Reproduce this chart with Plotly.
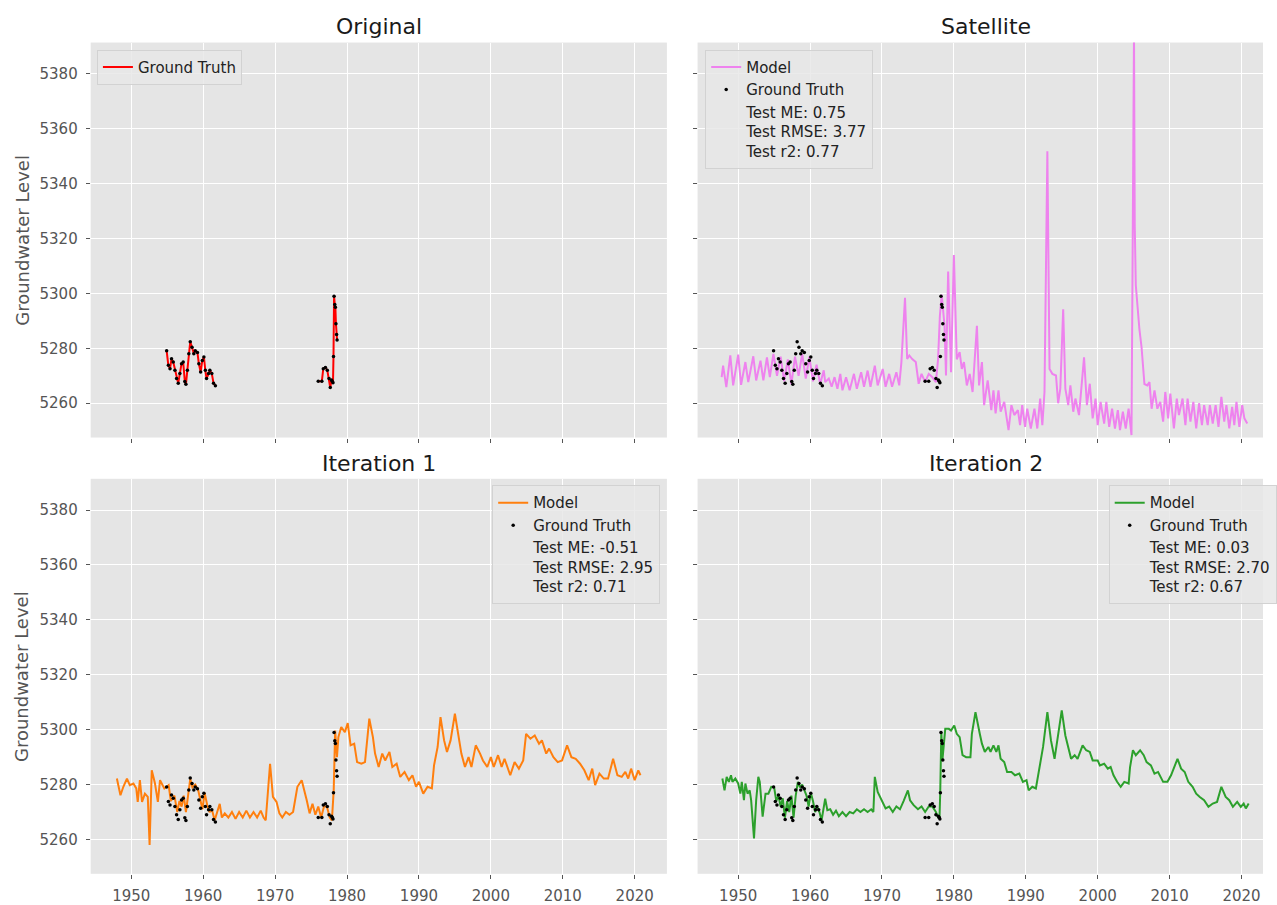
import plotly.graph_objects as go

# ---------------- data ----------------
year_ticks = [1950, 1960, 1970, 1980, 1990, 2000, 2010, 2020]
level_ticks = [5260, 5280, 5300, 5320, 5340, 5360, 5380]

# Ground-truth observations (gap between the two observation campaigns)
gt_years = [1954.92, 1955.16, 1955.39, 1955.6, 1955.84, 1956.07, 1956.3, 1956.53, 1956.76, 1956.99,
            1957.22, 1957.45, 1957.6, 1957.8, 1958.0, 1958.2, 1958.45, 1958.7, 1958.9, 1959.2,
            1959.4, 1959.65, 1959.88, 1960.1, 1960.3, 1960.47, 1960.75, 1960.93, 1961.2, 1961.44,
            1961.7, None,
            1976.0, 1976.5, 1976.7, 1977.0, 1977.26, 1977.5, 1977.67, 1977.85, 1977.95, 1978.05,
            1978.12, 1978.2, 1978.3, 1978.38, 1978.46, 1978.55, 1978.62]
gt_values = [5279.1, 5273.8, 5272.6, 5276.2, 5275.0, 5272.0, 5269.0, 5267.3, 5270.8, 5274.4,
             5275.0, 5267.9, 5266.9, 5272.0, 5278.0, 5282.4, 5280.4, 5278.0, 5279.1, 5278.5,
             5274.4, 5271.4, 5275.6, 5276.8, 5272.0, 5269.0, 5270.8, 5272.0, 5270.8, 5267.3,
             5266.4, None,
             5268.0, 5268.0, 5272.6, 5273.0, 5272.0, 5269.0, 5265.7, 5268.5, 5268.0, 5267.5,
             5277.0, 5299.0, 5296.0, 5295.0, 5289.0, 5285.0, 5283.0]

sat_years = [1947.7, 1947.9, 1948.35, 1948.9, 1949.3, 1950.0, 1950.4, 1951.0, 1951.4, 1952.1,
             1952.5, 1953.1, 1953.5, 1954.0, 1954.4, 1954.9, 1955.4, 1955.9, 1956.4, 1956.9,
             1957.4, 1957.9, 1958.4, 1958.9, 1959.4, 1959.9, 1960.4, 1960.9, 1961.4, 1961.9,
             1962.1, 1962.6, 1963.0, 1963.4, 1963.8, 1964.2, 1964.5, 1965.0, 1965.5, 1966.1,
             1966.5, 1967.1, 1967.5, 1968.0, 1968.4, 1969.0, 1969.4, 1970.1, 1970.5, 1971.0,
             1971.4, 1972.0, 1972.4, 1972.7, 1973.2, 1973.5, 1973.8, 1974.2, 1974.7, 1975.1,
             1975.5, 1976.0, 1976.5, 1977.0, 1977.5, 1977.8, 1978.05, 1978.3, 1978.7, 1978.9,
             1979.2, 1979.6, 1980.0, 1980.4, 1980.8, 1981.1, 1981.4, 1981.8, 1982.2, 1982.6,
             1983.2, 1983.5, 1983.9, 1984.2, 1984.7, 1985.2, 1985.5, 1985.8, 1986.2, 1986.5,
             1987.0, 1987.6, 1988.0, 1988.4, 1988.9, 1989.2, 1989.5, 1989.9, 1990.2, 1990.7,
             1991.2, 1991.6, 1992.0, 1992.3, 1992.6, 1993.0, 1993.3, 1993.7, 1994.2, 1994.5,
             1994.8, 1995.2, 1995.5, 1995.9, 1996.2, 1996.6, 1996.9, 1997.4, 1998.1, 1998.5,
             1998.9, 1999.3, 1999.7, 2000.0, 2000.4, 2000.9, 2001.2, 2001.6, 2002.0, 2002.4,
             2002.8, 2003.1, 2003.5, 2003.9, 2004.3, 2004.7, 2005.05, 2005.15, 2005.3, 2005.5,
             2005.8, 2006.1, 2006.5, 2006.9, 2007.2, 2007.5, 2007.9, 2008.3, 2008.7, 2009.1, 2009.4,
             2009.8, 2010.1, 2010.6, 2011.0, 2011.3, 2011.8, 2012.2, 2012.5, 2012.9, 2013.3,
             2013.7, 2014.1, 2014.5, 2014.8, 2015.3, 2015.6, 2016.0, 2016.4, 2016.8, 2017.2,
             2017.6, 2017.9, 2018.3, 2018.7, 2019.0, 2019.3, 2019.7, 2020.1, 2020.4, 2020.8]
sat_values = [5269.5, 5273.7, 5265.9, 5277.4, 5266.5, 5277.7, 5266.7, 5275.0, 5267.7, 5277.1,
              5268.3, 5275.5, 5268.3, 5276.7, 5269.5, 5278.0, 5270.0, 5277.0, 5268.0, 5276.0,
              5267.0, 5277.0, 5270.0, 5278.0, 5269.0, 5277.0, 5268.0, 5274.0, 5267.0, 5272.0,
              5267.7, 5269.0, 5266.0, 5269.5, 5265.3, 5270.7, 5264.7, 5269.5, 5264.7, 5270.7,
              5265.3, 5271.3, 5266.0, 5271.9, 5266.0, 5273.7, 5266.5, 5272.5, 5266.0, 5270.7,
              5266.0, 5271.3, 5266.5, 5275.0, 5298.4, 5276.1, 5277.4, 5276.1, 5275.0, 5267.1,
              5270.7, 5267.7, 5270.7, 5269.5, 5267.7, 5276.1, 5291.8, 5299.6, 5288.2, 5270.1,
              5308.0, 5271.3, 5314.0, 5276.0, 5278.6, 5272.5, 5275.0, 5266.5, 5270.7, 5264.1,
              5288.2, 5266.5, 5275.0, 5259.3, 5268.3, 5257.5, 5264.7, 5256.3, 5264.7, 5256.9,
              5260.5, 5250.2, 5259.3, 5255.7, 5257.5, 5252.0, 5259.3, 5251.4, 5258.0, 5250.8,
              5258.0, 5250.8, 5261.7, 5252.0, 5264.1, 5351.8, 5272.5, 5270.7, 5270.1, 5260.0,
              5265.3, 5294.2, 5265.3, 5259.3, 5266.5, 5256.9, 5261.7, 5255.7, 5276.7, 5259.3,
              5267.1, 5254.5, 5261.7, 5252.0, 5260.5, 5252.6, 5260.5, 5251.4, 5258.0, 5250.8,
              5257.5, 5250.2, 5256.9, 5250.8, 5258.0, 5248.4, 5395.0, 5325.0, 5303.0, 5296.0,
              5287.0, 5280.4, 5267.0, 5266.5, 5267.7, 5258.0, 5264.7, 5258.0, 5260.5, 5253.3, 5264.1,
              5254.5, 5263.5, 5250.8, 5261.7, 5255.7, 5261.7, 5252.0, 5261.7, 5253.3, 5260.5,
              5250.8, 5260.0, 5252.0, 5259.3, 5252.0, 5259.3, 5252.6, 5259.3, 5251.4, 5262.3,
              5253.3, 5259.3, 5250.8, 5258.7, 5252.0, 5260.5, 5251.4, 5259.3, 5254.5, 5252.6]

it1_years = [1948.0, 1948.5, 1948.9, 1949.4, 1949.8, 1950.3, 1950.7, 1950.9, 1951.2, 1951.5,
             1951.9, 1952.3, 1952.55, 1952.85, 1953.3, 1953.7, 1954.0, 1954.6, 1955.2, 1955.5,
             1956.0, 1956.4, 1956.7, 1957.0, 1957.3, 1957.6, 1957.9, 1958.2, 1958.5, 1958.9,
             1959.3, 1959.6, 1959.9, 1960.2, 1960.6, 1960.9, 1961.2, 1961.6, 1962.0, 1962.3,
             1962.6, 1963.0, 1963.5, 1964.0, 1964.5, 1965.0, 1965.5, 1966.0, 1966.5, 1967.0,
             1967.5, 1968.0, 1968.4, 1968.7, 1969.3, 1969.7, 1970.2, 1970.6, 1971.0, 1971.5,
             1972.0, 1972.5, 1973.1, 1973.7, 1974.4, 1974.8, 1975.2, 1975.6, 1976.0, 1976.4,
             1976.8, 1977.2, 1977.6, 1977.9, 1978.15, 1978.35, 1978.6, 1978.8, 1979.2, 1979.7,
             1980.1, 1980.5, 1981.0, 1981.4, 1982.0, 1982.5, 1983.1, 1983.6, 1983.9, 1984.4,
             1984.9, 1985.3, 1985.9, 1986.3, 1986.9, 1987.4, 1988.0, 1988.6, 1989.1, 1989.6,
             1990.0, 1990.6, 1991.2, 1991.8, 1992.1, 1992.6, 1993.0, 1993.5, 1993.9, 1994.4,
             1995.0, 1995.4, 1995.9, 1996.4, 1996.9, 1997.3, 1997.9, 1998.5, 1998.9, 1999.5,
             2000.0, 2000.4, 2001.0, 2001.5, 2001.9, 2002.7, 2003.3, 2003.9, 2004.5, 2004.9,
             2005.5, 2006.1, 2006.7, 2007.1, 2007.7, 2008.1, 2008.7, 2009.3, 2009.9, 2010.6,
             2011.2, 2011.8, 2012.4, 2013.0, 2013.6, 2014.1, 2014.5, 2015.1, 2015.7, 2016.3,
             2017.0, 2017.6, 2018.2, 2018.7, 2019.1, 2019.5, 2020.0, 2020.5, 2020.8]
it1_values = [5282.2, 5276.1, 5279.2, 5282.2, 5279.8, 5280.4, 5278.6, 5273.7, 5281.6, 5273.7,
              5276.7, 5275.5, 5258.0, 5285.2, 5280.4, 5273.7, 5281.6, 5278.6, 5279.8, 5274.0,
              5276.0, 5270.0, 5274.0, 5272.0, 5276.0, 5270.0, 5276.0, 5282.0, 5279.0, 5280.0,
              5278.0, 5274.0, 5271.0, 5277.0, 5272.0, 5270.0, 5271.0, 5267.0, 5270.0, 5273.0,
              5268.0, 5269.5, 5268.0, 5270.0, 5267.5, 5270.0, 5268.0, 5270.5, 5268.0, 5270.0,
              5268.0, 5270.5, 5268.0, 5267.0, 5287.6, 5275.5, 5273.7, 5269.5, 5268.0, 5270.0,
              5269.0, 5270.0, 5279.2, 5281.6, 5274.3, 5269.5, 5273.0, 5269.0, 5272.0, 5268.0,
              5272.0, 5272.0, 5268.0, 5267.0, 5277.9, 5299.7, 5290.0, 5297.3, 5301.0, 5299.1,
              5302.4, 5294.3, 5294.9, 5288.2, 5287.6, 5288.2, 5304.0, 5297.3, 5291.3, 5286.4,
              5291.3, 5288.8, 5291.9, 5286.4, 5287.6, 5282.8, 5284.6, 5281.6, 5283.4, 5279.2,
              5281.0, 5276.7, 5279.2, 5278.6, 5287.0, 5293.7, 5304.6, 5296.1, 5291.9, 5296.1,
              5305.8, 5299.7, 5291.3, 5286.4, 5290.0, 5286.4, 5294.3, 5291.3, 5288.8, 5286.4,
              5290.0, 5286.4, 5290.7, 5286.4, 5289.4, 5283.4, 5288.2, 5285.8, 5288.8, 5298.5,
              5296.7, 5297.9, 5294.9, 5296.1, 5291.3, 5293.1, 5290.0, 5288.2, 5288.8, 5294.3,
              5290.0, 5289.4, 5287.6, 5285.2, 5281.6, 5285.8, 5279.8, 5284.0, 5282.2, 5282.2,
              5289.4, 5283.4, 5282.8, 5284.6, 5282.2, 5285.8, 5281.6, 5285.2, 5283.4]

it2_years = [1947.8, 1948.1, 1948.4, 1948.7, 1949.0, 1949.2, 1949.6, 1950.0, 1950.3, 1950.5,
             1950.8, 1951.0, 1951.3, 1951.6, 1951.8, 1952.2, 1952.5, 1952.8, 1953.0, 1953.4,
             1953.8, 1954.2, 1954.6, 1955.0, 1955.3, 1955.6, 1955.9, 1956.2, 1956.5, 1956.8,
             1957.1, 1957.4, 1957.7, 1958.0, 1958.3, 1958.6, 1958.9, 1959.2, 1959.5, 1959.8,
             1960.1, 1960.4, 1960.7, 1961.0, 1961.3, 1961.6, 1962.1, 1962.4, 1962.8, 1963.2,
             1963.6, 1964.0, 1964.5, 1965.0, 1965.5, 1966.0, 1966.5, 1967.0, 1967.5, 1968.0,
             1968.5, 1968.8, 1969.0, 1969.4, 1969.9, 1970.5, 1971.0, 1971.5, 1972.0, 1972.5,
             1973.0, 1973.6, 1973.9, 1974.4, 1975.0, 1975.5, 1976.0, 1976.5, 1977.0, 1977.5,
             1977.8, 1978.0, 1978.1, 1978.25, 1978.4, 1978.6, 1978.8, 1979.3, 1979.6, 1980.05,
             1980.4, 1980.8, 1981.2, 1981.7, 1982.3, 1982.5, 1983.0, 1983.6, 1983.9, 1984.3,
             1984.8, 1985.1, 1985.5, 1985.9, 1986.2, 1986.5, 1987.0, 1987.4, 1988.0, 1988.5,
             1989.1, 1989.6, 1990.1, 1990.4, 1990.9, 1991.4, 1992.0, 1992.4, 1993.0, 1993.5,
             1994.0, 1994.6, 1995.0, 1995.5, 1995.9, 1996.3, 1996.8, 1997.2, 1997.9, 1998.4,
             1998.9, 1999.3, 2000.0, 2000.3, 2000.9, 2001.4, 2001.8, 2002.2, 2002.7, 2003.2,
             2003.7, 2004.3, 2004.5, 2004.9, 2005.3, 2005.9, 2006.4, 2006.8, 2007.4, 2007.9,
             2008.4, 2009.1, 2009.7, 2010.2, 2011.1, 2011.6, 2012.1, 2012.6, 2013.2, 2013.7,
             2014.2, 2014.8, 2015.4, 2016.0, 2016.6, 2017.2, 2017.8, 2018.3, 2018.8, 2019.4,
             2019.9, 2020.3, 2020.6, 2021.0]
it2_values = [5282.2, 5277.9, 5282.8, 5281.0, 5283.4, 5281.0, 5282.2, 5280.4, 5276.7, 5281.0,
              5274.3, 5280.4, 5276.7, 5277.9, 5274.3, 5260.4, 5274.3, 5282.8, 5281.0, 5268.3,
              5276.7, 5276.7, 5279.2, 5279.0, 5274.0, 5276.0, 5272.0, 5275.0, 5268.0, 5274.0,
              5270.0, 5276.0, 5268.0, 5276.0, 5281.0, 5279.0, 5280.0, 5278.0, 5276.0, 5272.0,
              5277.0, 5274.0, 5270.0, 5272.0, 5270.0, 5267.0, 5274.9, 5270.7, 5271.0, 5269.0,
              5270.5, 5268.5, 5270.0, 5268.5, 5270.0, 5269.5, 5271.0, 5270.0, 5271.0, 5270.0,
              5271.0, 5270.0, 5282.8, 5277.3, 5274.3, 5271.3, 5272.0, 5270.0, 5272.0, 5271.0,
              5274.0, 5277.9, 5274.3, 5272.5, 5271.0, 5272.0, 5270.0, 5272.0, 5272.0, 5270.0,
              5268.0, 5268.0, 5277.3, 5299.1, 5288.8, 5296.1, 5300.3, 5300.3, 5299.7, 5301.5,
              5298.5, 5297.3, 5290.7, 5290.0, 5290.0, 5298.5, 5306.4, 5298.5, 5294.9, 5291.9,
              5293.7, 5291.9, 5294.3, 5291.9, 5294.3, 5289.4, 5288.2, 5284.6, 5284.6, 5283.4,
              5284.0, 5281.0, 5281.6, 5277.9, 5279.2, 5278.6, 5288.2, 5293.7, 5306.4, 5296.1,
              5289.4, 5299.1, 5307.0, 5297.9, 5293.7, 5289.4, 5290.7, 5289.4, 5294.3, 5292.5,
              5291.9, 5288.8, 5288.8, 5287.0, 5287.6, 5285.8, 5286.4, 5283.4, 5281.0, 5279.2,
              5281.0, 5280.4, 5286.4, 5292.5, 5290.7, 5292.5, 5290.7, 5288.2, 5287.0, 5284.0,
              5284.6, 5281.0, 5281.0, 5283.4, 5289.4, 5285.8, 5284.6, 5281.0, 5279.2, 5276.7,
              5275.5, 5274.3, 5271.9, 5273.1, 5273.7, 5279.2, 5275.5, 5274.3, 5271.9, 5273.7,
              5271.9, 5273.1, 5271.3, 5273.1]

panel_titles = ["Original", "Satellite", "Iteration 1", "Iteration 2"]
metric_labels = ["Test ME: 0.75<br>Test RMSE: 3.77<br>Test r2: 0.77",
                 "Test ME: -0.51<br>Test RMSE: 2.95<br>Test r2: 0.71",
                 "Test ME: 0.03<br>Test RMSE: 2.70<br>Test r2: 0.67"]
y_label = "Groundwater Level"

# ---------------- styling / layout ----------------
W, H = 1277, 905
FONT = "DejaVu Sans"
TICK = "#555555"
BG = "#E5E5E5"


def px(x):
    return x / W


def py(y):
    return 1 - y / H


left_dom = [px(91.7), px(674.3)]
right_dom = [px(705.3), 1.0]
top_dom = [py(439.0), py(42.7)]
bot_dom = [py(876.7), py(480.4)]
x_rng_left = [1944.36, 2024.48]
x_rng_right = [1944.35, 2022.99]
y_rng = [5247.5, 5391.4]

fig = go.Figure()

# Original
fig.add_trace(go.Scatter(x=gt_years, y=gt_values, mode="lines", name="Ground Truth",
                         line=dict(color="#ff0000", width=2), xaxis="x", yaxis="y",
                         legend="legend"))
fig.add_trace(go.Scatter(x=gt_years, y=gt_values, mode="markers", showlegend=False,
                         marker=dict(color="black", size=3.5), xaxis="x", yaxis="y"))

series = [
    (sat_years, sat_values, "#ee82ee", "x2", "y2", "legend2", metric_labels[0]),
    (it1_years, it1_values, "#ff7f0e", "x3", "y3", "legend3", metric_labels[1]),
    (it2_years, it2_values, "#2ca02c", "x4", "y4", "legend4", metric_labels[2]),
]
for xs, ys, col, xa, ya, lg, lab in series:
    fig.add_trace(go.Scatter(x=xs, y=ys, mode="lines", name="Model",
                             line=dict(color=col, width=2), xaxis=xa, yaxis=ya, legend=lg))
    fig.add_trace(go.Scatter(x=gt_years, y=gt_values, mode="markers", name="Ground Truth",
                             marker=dict(color="black", size=3.5), xaxis=xa, yaxis=ya, legend=lg))
    fig.add_trace(go.Scatter(x=[None], y=[None], mode="markers", name=lab,
                             marker=dict(color="rgba(0,0,0,0)", size=1), xaxis=xa, yaxis=ya,
                             legend=lg, showlegend=True))


def xaxis(dom, rng, anchor, labels):
    return dict(domain=dom, range=rng, anchor=anchor, tickvals=year_ticks,
                showticklabels=labels, ticks="outside", ticklen=4, tickwidth=1,
                tickcolor=TICK, tickfont=dict(family=FONT, size=15, color=TICK),
                ticklabelstandoff=4,
                showgrid=True, gridcolor="white", gridwidth=1.3, zeroline=False,
                showline=False, fixedrange=True)


def yaxis(dom, anchor, labels):
    return dict(domain=dom, range=y_rng, anchor=anchor, tickvals=level_ticks,
                showticklabels=labels, ticks="outside", ticklen=4, tickwidth=1,
                tickcolor=TICK, tickfont=dict(family=FONT, size=15, color=TICK),
                ticklabelstandoff=5,
                showgrid=True, gridcolor="white", gridwidth=1.3, zeroline=False,
                showline=False, fixedrange=True)


legend_common = dict(bgcolor="rgba(232,232,232,0.85)", bordercolor="#d2d2d2", borderwidth=1,
                     font=dict(family=FONT, size=15, color="#222222"),
                     yanchor="top", traceorder="normal")

fig.update_layout(
    width=W, height=H, autosize=False,
    margin=dict(l=0, r=0, t=0, b=0),
    paper_bgcolor="white", plot_bgcolor=BG,
    font=dict(family=FONT),
    xaxis=xaxis(left_dom, x_rng_left, "y", False),
    yaxis=yaxis(top_dom, "x", True),
    xaxis2=xaxis(right_dom, x_rng_right, "y2", False),
    yaxis2=yaxis(top_dom, "x2", False),
    xaxis3=xaxis(left_dom, x_rng_left, "y3", True),
    yaxis3=yaxis(bot_dom, "x3", True),
    xaxis4=xaxis(right_dom, x_rng_right, "y4", True),
    yaxis4=yaxis(bot_dom, "x4", False),
    legend=dict(x=px(98), y=py(50), xanchor="left", **legend_common),
    legend2=dict(x=px(713), y=py(50), xanchor="left", **legend_common),
    legend3=dict(x=px(667.5), y=py(487), xanchor="right", **legend_common),
    legend4=dict(x=px(1121), y=py(487), xanchor="left", **legend_common),
)

title_pos = [((91.7 + 674.3) / 2, 27), ((705.3 + 1287.9) / 2, 27),
             ((91.7 + 674.3) / 2, 465), ((705.3 + 1287.9) / 2, 465)]
for t, (cx, cy) in zip(panel_titles, title_pos):
    fig.add_annotation(text=t, x=px(cx), y=py(cy), xref="paper", yref="paper",
                       showarrow=False, xanchor="center", yanchor="middle",
                       font=dict(family=FONT, size=22, color="#1a1a1a"))
for cy in [(42.7 + 439.0) / 2, (480.4 + 876.7) / 2]:
    fig.add_annotation(text=y_label, x=px(22), y=py(cy), xref="paper", yref="paper",
                       showarrow=False, xanchor="center", yanchor="middle", textangle=-90,
                       font=dict(family=FONT, size=18, color=TICK))

fig.write_html("out.html")
